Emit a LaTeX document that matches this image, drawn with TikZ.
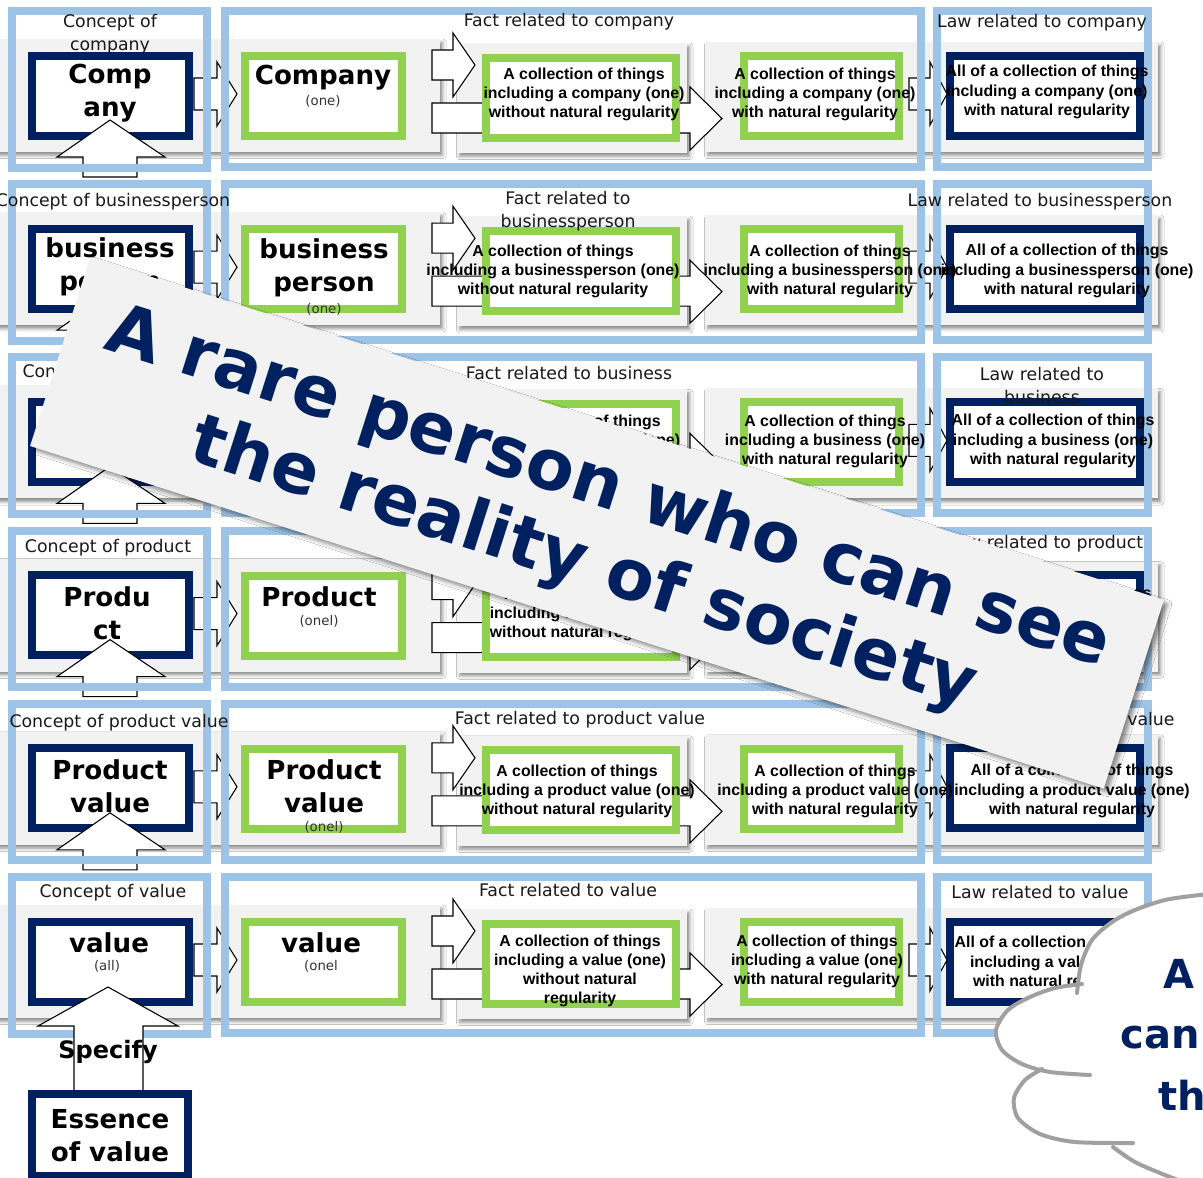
\documentclass[tikz,border=0pt]{standalone}
\usepackage{fontspec}
\setmainfont{DejaVu Sans}
\newfontfamily\arialf{Liberation Sans}
\usetikzlibrary{shadows.blur}
\definecolor{frameblue}{HTML}{9DC3E6}
\definecolor{navy}{HTML}{002060}
\definecolor{grn}{HTML}{92D050}
\definecolor{bandgray}{HTML}{F2F2F2}
\definecolor{cloudgray}{HTML}{A0A0A0}
\tikzset{
  band/.style={fill=bandgray, blur shadow={shadow xshift=2pt, shadow yshift=-2.5pt, shadow blur radius=2.5pt, shadow opacity=45}},
  frameline/.style={draw=frameblue, line width=6pt},
  navybox/.style={draw=navy, fill=white, line width=6pt},
  greenbox/.style={draw=grn, fill=white, line width=6pt},
  blockarrow/.style={draw=black, fill=white, line width=0.8pt, line join=miter},
  lab/.style={font=\fontsize{13}{17.25}\selectfont, text=black!90, align=center, inner sep=0pt},
  bigtxt/.style={font=\fontsize{19.6}{24.75}\selectfont\bfseries, align=center, inner sep=0pt},
  smalltxt/.style={font=\fontsize{10}{12}\selectfont, text=black!80, inner sep=0pt},
  facttxt/.style={font=\arialf\bfseries\fontsize{11.9}{14.3}\selectfont, align=center, inner sep=0pt},
  lawtxt/.style={font=\arialf\bfseries\fontsize{11.9}{14.6}\selectfont, align=center, inner sep=0pt},
  bannerbox/.style={fill=bandgray, inner sep=0pt, blur shadow={shadow xshift=3pt, shadow yshift=-3pt, shadow blur radius=3pt, shadow opacity=45}},
  bannertxt/.style={font=\fontsize{52.5}{60}\selectfont\bfseries, text=navy, align=center, inner sep=0pt},
  cloudtxt/.style={font=\fontsize{30}{36}\selectfont\bfseries, text=navy, inner sep=0pt, anchor=base west},
  cloudline/.style={draw=cloudgray, line width=3pt, line cap=round},
}
\begin{document}
\begin{tikzpicture}[x=0.75pt,y=-0.75pt]
\useasboundingbox (0,0) rectangle (1203,1178);
\clip (0,0) rectangle (1203,1178);
\fill[white] (0,0) rectangle (1203,1178);

\foreach \i in {0,...,5}{
  \pgfmathsetmacro\dy{173.2*\i}
  % grey bands
  \fill[band] (-20,39+\dy) rectangle (440,152+\dy);
  \fill[band] (457,43+\dy) rectangle (687,153+\dy);
  \fill[band] (705,42+\dy) rectangle (1158,152+\dy);
  % long arrow under the first fact box
  \draw[blockarrow] (432,103+\dy) -- (690,103+\dy) -- (690,87+\dy) -- (722,118.5+\dy) -- (690,150+\dy) -- (690,133+\dy) -- (432,133+\dy) -- cycle;
  % boxes
  \draw[navybox] (32,55.5+\dy) rectangle (188.5,135.5+\dy);
  \draw[greenbox] (245,56+\dy) rectangle (401.5,136+\dy);
  \draw[greenbox] (486,57.5+\dy) rectangle (676,137.5+\dy);
  \draw[greenbox] (743.5,56+\dy) rectangle (899,136+\dy);
  \draw[navybox] (949.5,55.5+\dy) rectangle (1139.5,135.5+\dy);
  % small arrows
  \draw[blockarrow] (194,78+\dy) -- (217,78+\dy) -- (217,62+\dy) -- (237,94+\dy) -- (217,126+\dy) -- (217,110+\dy) -- (194,110+\dy) -- cycle;
  \draw[blockarrow] (432,50+\dy) -- (453,50+\dy) -- (453,33+\dy) -- (475,65+\dy) -- (453,97+\dy) -- (453,80+\dy) -- (432,80+\dy) -- cycle;
  \draw[blockarrow] (909,78+\dy) -- (930,78+\dy) -- (930,62+\dy) -- (947,94+\dy) -- (930,125+\dy) -- (930,110+\dy) -- (909,110+\dy) -- cycle;
  \ifnum\i<5
    \draw[blockarrow] (110,120+\dy) -- (165,157+\dy) -- (137,157+\dy) -- (137,177+\dy) -- (83,177+\dy) -- (83,157+\dy) -- (57,157+\dy) -- cycle;
  \fi
  % blue frames
  \draw[frameline] (12,11+\dy) rectangle (207,167.5+\dy);
  \draw[frameline] (225,11+\dy) rectangle (921,167+\dy);
  \draw[frameline] (936.5,11+\dy) rectangle (1147.5,167+\dy);
}

% Specify arrow and essence box
\draw[blockarrow] (108,987) -- (178,1026) -- (143,1026) -- (143,1097) -- (74,1097) -- (74,1026) -- (38,1026) -- cycle;
\draw[navybox] (32,1094) rectangle (188,1176);

% ---------- texts row 1
\node[lab] (cl1) at (110,34.5) {Concept of\\company};
\node[bigtxt] (ct1) at (110,93.5) {Comp\\any};
\node[bigtxt] (gt1) at (323,78) {Company};
\node[smalltxt] (gs1) at (323,101) {(one)};
\node[lab] (fl1) at (569,22) {Fact related to company};
\node[facttxt] (fa1) at (584,94) {A collection of things\\including a company (one)\\without natural regularity};
\node[facttxt] (fb1) at (815,94) {A collection of things\\including a company (one)\\with natural regularity};
\node[lab] (ll1) at (1042,23) {Law related to company};
\node[lawtxt] (lt1) at (1047,92) {All of a collection of things\\including a company (one)\\with natural regularity};

% ---------- row 2
\node[lab] (cl2) at (113,202) {Concept of businessperson};
\node[bigtxt] (ct2) at (110,266.5) {business\\person};
\node[bigtxt] (gt2) at (324,268) {business\\person};
\node[smalltxt] (gs2) at (324,309) {(one)};
\node[lab] (fl2) at (568,211.5) {Fact related to\\businessperson};
\node[facttxt] (fa2) at (553,271) {A collection of things\\including a businessperson (one)\\without natural regularity};
\node[facttxt] (fb2) at (830,271) {A collection of things\\including a businessperson (one)\\with natural regularity};
\node[lab] (ll2) at (1040,202) {Law related to businessperson};
\node[lawtxt] (lt2) at (1067,271) {All of a collection of things\\including a businessperson (one)\\with natural regularity};

% ---------- row 3
\node[lab] (cl3) at (110,373) {Concept of business};
\node[bigtxt] (ct3) at (110,441.5) {busine\\ss};
\node[lab] (fl3) at (569,373) {Fact related to business};
\node[facttxt] (fa3) at (580,441) {A collection of things\\including a business (one)\\without natural regularity};
\node[facttxt] (fb3) at (825,441) {A collection of things\\including a business (one)\\with natural regularity};
\node[lab] (ll3) at (1042,385.5) {Law related to\\business};
\node[lawtxt] (lt3) at (1053,441) {All of a collection of things\\including a business (one)\\with natural regularity};

% ---------- row 4
\node[lab] (cl4) at (108,548) {Concept of product};
\node[bigtxt] (ct4) at (107,613) {Produ\\ct};
\node[bigtxt] (gt4) at (319,597) {Product};
\node[smalltxt] (gs4) at (319,621) {(onel)};
\node[facttxt] (fa4) at (585,614) {A collection of things\\including a product (one)\\without natural regularity};
\node[lab] (ll4) at (1045,544) {Law related to product};
\node[lawtxt] (lt4) at (1050,614) {All of a collection of things\\including a product (one)\\with natural regularity};

% ---------- row 5
\node[lab] (cl5) at (119,723) {Concept of product value};
\node[bigtxt] (ct5) at (110,786.5) {Product\\value};
\node[bigtxt] (gt5) at (324,786.5) {Product\\value};
\node[smalltxt] (gs5) at (324,827) {(onel)};
\node[lab] (fl5) at (580,720) {Fact related to product value};
\node[facttxt] (fa5) at (577,791) {A collection of things\\including a product value (one)\\without natural regularity};
\node[facttxt] (fb5) at (835,791) {A collection of things\\including a product value (one)\\with natural regularity};
\node[lab] (ll5) at (1050,721) {Law related to product value};
\node[lawtxt] (lt5) at (1072,791) {All of a collection of things\\including a product value (one)\\with natural regularity};

% ---------- row 6
\node[lab] (cl6) at (113,893) {Concept of value};
\node[bigtxt] (ct6) at (109,943) {value};
\node[smalltxt] (cs6) at (107,966) {(all)};
\node[bigtxt] (gt6) at (321,943) {value};
\node[smalltxt] (gs6) at (321,966) {(onel};
\node[lab] (fl6) at (568,890) {Fact related to value};
\node[facttxt] (fa6) at (580,971) {A collection of things\\including a value (one)\\without natural\\regularity};
\node[facttxt] (fb6) at (817,961) {A collection of things\\including a value (one)\\with natural regularity};
\node[lab] (ll6) at (1040,892) {Law related to value};
\node[lawtxt] (lt6) at (1056,963) {All of a collection of things\\including a value (one)\\with natural regularity};

\node[font=\fontsize{18}{22}\selectfont\bfseries, inner sep=0pt] (spec) at (108,1052) {Specify};
\node[bigtxt] (ess) at (110,1136) {Essence\\of value};

% ---------- banner
\node[bannerbox, rotate=-17.7, minimum width=845.25pt, minimum height=148.5pt] (bn) at (597,523) {};
\node[bannertxt, rotate=-17.7] (bt) at (595.5,527.5) {A rare person who can see\\the reality of society};

% ---------- cloud
\fill[white] plot[smooth] coordinates {(1077,993) (1081,965) (1092,940) (1112,922) (1135,910) (1165,900) (1200,895) (1230,893)}
  -- (1250,893) -- (1250,1210) -- (1200,1210)
  -- plot[smooth] coordinates {(1200,1188) (1165,1175) (1135,1162) (1113,1147)}
  -- plot[smooth] coordinates {(1075,1142) (1040,1134) (1018,1118) (1014,1098) (1025,1080) (1042,1069)}
  -- plot[smooth] coordinates {(1022,1064) (1002,1050) (996,1030) (1008,1010) (1030,997) (1055,988) (1082,984)}
  -- cycle;
\draw[cloudline] plot[smooth] coordinates {(1077,993) (1081,965) (1092,940) (1112,922) (1135,910) (1165,900) (1200,895) (1230,893)};
\draw[cloudline] plot[smooth] coordinates {(1082,984) (1055,988) (1030,997) (1008,1010) (996,1030) (1002,1050) (1022,1064) (1050,1072) (1090,1075)};
\draw[cloudline] plot[smooth] coordinates {(1042,1069) (1025,1080) (1014,1098) (1018,1118) (1040,1134) (1075,1142) (1133,1143)};
\draw[cloudline] plot[smooth] coordinates {(1113,1147) (1135,1162) (1165,1175) (1200,1188)};
\node[cloudtxt] (cA) at (1163,988) {A};
\node[cloudtxt] (cB) at (1120,1048) {can};
\node[cloudtxt] (cC) at (1158,1110) {th};
\end{tikzpicture}
\end{document}
